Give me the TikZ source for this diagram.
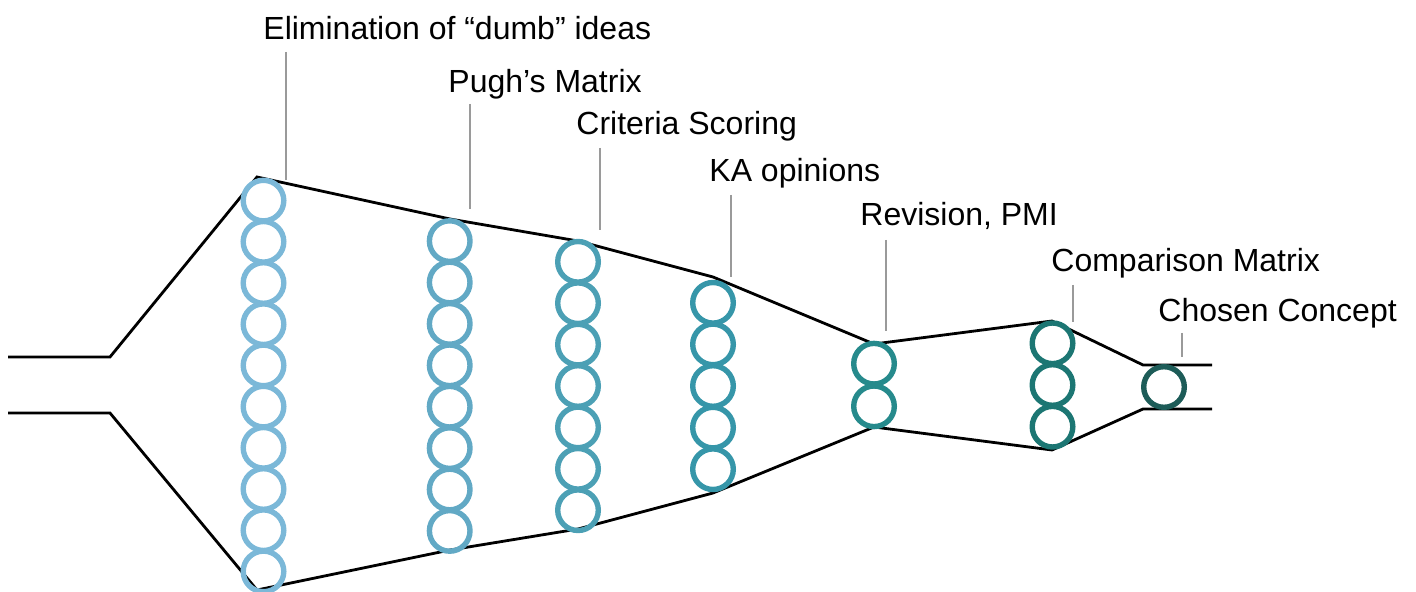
\documentclass[tikz,border=0pt]{standalone}
\usepackage{fontspec}
\setmainfont{Liberation Sans}
\definecolor{cA}{HTML}{7BB8D8}
\definecolor{cB}{HTML}{62A9C5}
\definecolor{cC}{HTML}{4CA0B5}
\definecolor{cD}{HTML}{3696A9}
\definecolor{cE}{HTML}{268A8C}
\definecolor{cF}{HTML}{1C7673}
\definecolor{cG}{HTML}{1D5C58}
\definecolor{leadgray}{HTML}{9A9A9A}
\tikzset{
  bub/.style={circle, draw=#1, line width=2.7pt, minimum size=20.3pt, inner sep=0pt, outer sep=0pt},
  funnel/.style={black, line width=1.4pt, line join=miter},
  leader/.style={leadgray, line width=1.4pt},
  lab/.style={anchor=base west, inner sep=0pt, font=\fontsize{16}{19}\selectfont}
}
\begin{document}
\begin{tikzpicture}[x=0.5pt,y=-0.5pt]
\useasboundingbox (0,0) rectangle (1416,592);
% funnel outline
\draw[funnel] (8,357) -- (110,357) -- (257,177) -- (450,219) -- (578,241) -- (713,277) -- (874,344) -- (1052,321) -- (1143,365) -- (1212,365);
\draw[funnel] (8,413) -- (110,413) -- (257,590) -- (450,550) -- (578,529) -- (713,493) -- (874,427) -- (1052,450) -- (1143,409) -- (1212,409);
% circles
\foreach \i in {0,...,9} \node[bub=cA] (a\i) at (263.5,{386+(\i-4.5)*41.2}) {};
\foreach \i in {0,...,7} \node[bub=cB] (b\i) at (449.7,{386+(\i-3.5)*41.4}) {};
\foreach \i in {0,...,6} \node[bub=cC] (c\i) at (578,{386+(\i-3)*41.4}) {};
\foreach \i in {0,...,4} \node[bub=cD] (d\i) at (713,{386+(\i-2)*41.6}) {};
\foreach \i in {0,...,1} \node[bub=cE] (e\i) at (874,{385+(\i-0.5)*42.6}) {};
\foreach \i in {0,...,2} \node[bub=cF] (f\i) at (1052.5,{385+(\i-1)*41.7}) {};
\node[bub=cG] (g0) at (1164,387) {};
% labels
\node[lab] (l1) at (263,40) {Elimination of “dumb” ideas};
\node[lab] (l2) at (448,93) {Pugh’s Matrix};
\node[lab] (l3) at (576,135) {Criteria Scoring};
\node[lab] (l4) at (709,182) {KA opinions};
\node[lab] (l5) at (860,226) {Revision, PMI};
\node[lab] (l6) at (1051,272) {Comparison Matrix};
\node[lab] (l7) at (1158,322) {Chosen Concept};
% leader lines
\coordinate (t1) at (286,52);   \coordinate (s1) at (286,180);
\coordinate (t2) at (470,104);  \coordinate (s2) at (470,209);
\coordinate (t3) at (600,148);  \coordinate (s3) at (600,230);
\coordinate (t4) at (731,195);  \coordinate (s4) at (731,277);
\coordinate (t5) at (886,240);  \coordinate (s5) at (886,331);
\coordinate (t6) at (1073,285); \coordinate (s6) at (1073,322);
\coordinate (t7) at (1182,333); \coordinate (s7) at (1182,357);
\foreach \k in {1,...,7} \draw[leader] (t\k) -- (s\k);
\end{tikzpicture}
\end{document}
